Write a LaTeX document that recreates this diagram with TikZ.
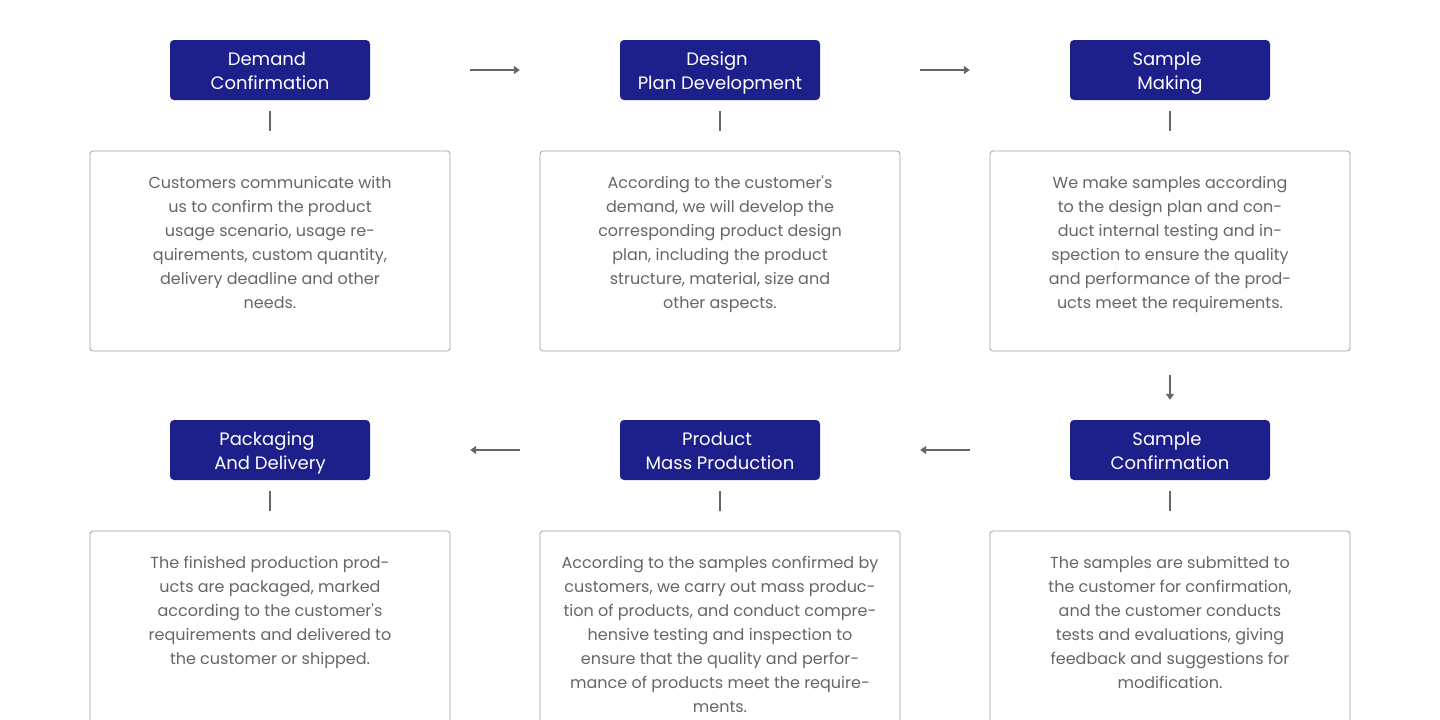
\documentclass[tikz,border=0pt]{standalone}
\usepackage{fontspec}
\setmainfont{Poppins}
\usetikzlibrary{arrows.meta}
\definecolor{navy}{HTML}{1D1F8A}
\definecolor{txtgray}{HTML}{666666}
\definecolor{boxgray}{HTML}{A0A0A0}
\definecolor{linegray}{HTML}{666666}
\newcommand{\hdtwo}[2]{\rule[-5pt]{0pt}{24pt}#1\hbox to 6pt{}\\\rule[-5pt]{0pt}{24pt}#2}
\begin{document}
\begin{tikzpicture}[x=1pt,y=-1pt,
  header/.style={fill=navy,text=white,rounded corners=4pt,minimum width=200pt,minimum height=60pt,inner sep=0pt,align=center,font=\fontsize{18}{24}\selectfont},
  infobox/.style={draw=boxgray,line width=0.8pt,rounded corners=3pt,minimum width=360pt,minimum height=200pt,inner sep=0pt},
  infotext/.style={anchor=north,align=center,text=txtgray,inner sep=0pt,font=\fontsize{16}{24}\selectfont},
  tick/.style={draw=linegray,line width=1.6pt,shorten <=11pt,shorten >=20pt},
  flow/.style={draw=linegray,line width=1.6pt,-{Triangle[width=8pt,length=6pt]}}
]
\clip (0,0) rectangle (1440,720);
\fill[white] (0,0) rectangle (1440,720);
% headers
\node[header] (h1) at (270,70) {\hdtwo{Demand}{Confirmation}};
\node[header] (h2) at (720,70) {\hdtwo{Design}{Plan Development}};
\node[header] (h3) at (1170,70) {\hdtwo{Sample}{Making}};
\node[header] (h4) at (270,450) {\hdtwo{Packaging}{And Delivery}};
\node[header] (h5) at (720,450) {\hdtwo{Product}{Mass Production}};
\node[header] (h6) at (1170,450) {\hdtwo{Sample}{Confirmation}};
% boxes
\node[infobox] (b1) at (270,251) {};
\node[infobox] (b2) at (720,251) {};
\node[infobox] (b3) at (1170,251) {};
\node[infobox] (b4) at (270,631) {};
\node[infobox] (b5) at (720,631) {};
\node[infobox] (b6) at (1170,631) {};
% texts
\node[infotext] (t1) at (270,176) {Customers communicate with\\us to confirm the product\\usage scenario, usage re-\\quirements, custom quantity,\\delivery deadline and other\\needs.};
\node[infotext] (t2) at (720,176) {According to the customer\textquotesingle s\\demand, we will develop the\\corresponding product design\\plan, including the product\\structure, material, size and\\other aspects.};
\node[infotext] (t3) at (1170,176) {We make samples according\\to the design plan and con-\\duct internal testing and in-\\spection to ensure the quality\\and performance of the prod-\\ucts meet the requirements.};
\node[infotext] (t4) at (270,556) {The finished production prod-\\ucts are packaged, marked\\according to the customer\textquotesingle s\\requirements and delivered to\\the customer or shipped.};
\node[infotext] (t5) at (720,556) {According to the samples confirmed by\\customers, we carry out mass produc-\\tion of products, and conduct compre-\\hensive testing and inspection to\\ensure that the quality and perfor-\\mance of products meet the require-\\ments.};
\node[infotext] (t6) at (1170,556) {The samples are submitted to\\the customer for confirmation,\\and the customer conducts\\tests and evaluations, giving\\feedback and suggestions for\\modification.};
% ticks
\foreach \i in {1,...,6}{\draw[tick] (h\i.south) -- (b\i.north);}
% flow arrows
\draw[flow,shorten <=100pt,shorten >=100pt] (h1.east) -- (h2.west);
\draw[flow,shorten <=100pt,shorten >=100pt] (h2.east) -- (h3.west);
\draw[flow,shorten <=24pt,shorten >=20pt] (b3.south) -- (h6.north);
\draw[flow,shorten <=100pt,shorten >=100pt] (h6.west) -- (h5.east);
\draw[flow,shorten <=100pt,shorten >=100pt] (h5.west) -- (h4.east);
\end{tikzpicture}
\end{document}
